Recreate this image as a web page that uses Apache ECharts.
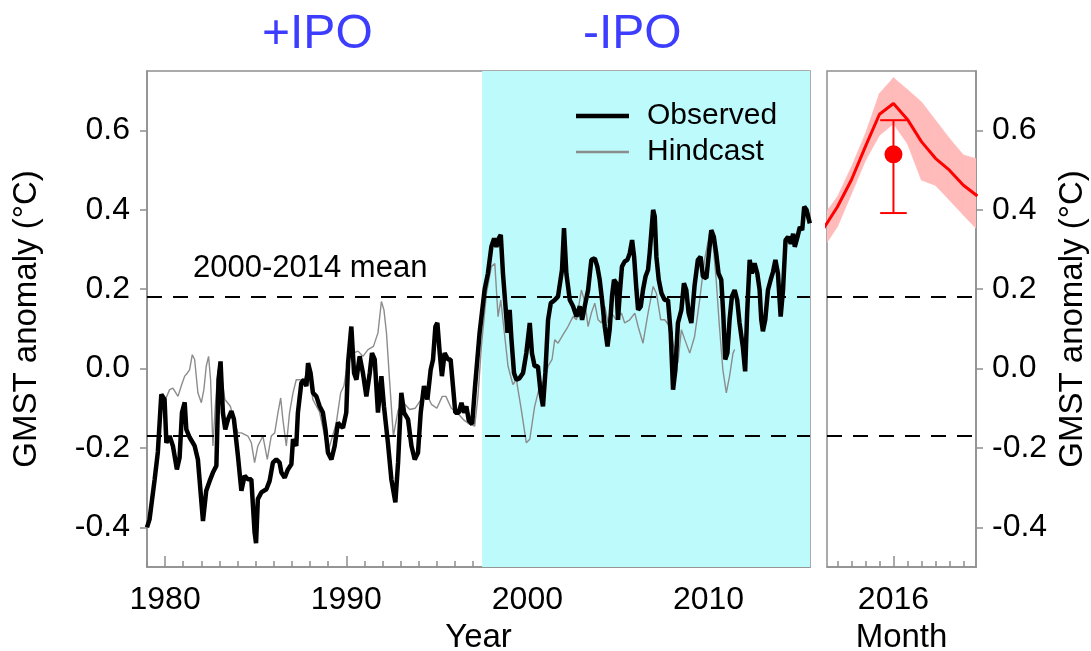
<!DOCTYPE html>
<html>
<head>
<meta charset="utf-8">
<script src="https://cdn.jsdelivr.net/npm/echarts@6/dist/echarts.min.js"></script>
<style>
  html, body { margin: 0; padding: 0; background: #fff; }
  #chart { width: 1091px; height: 651px; }
</style>
</head>
<body>
<div id="chart"></div>
<script>
// Monthly-smoothed global mean surface temperature anomaly, observed (°C)
const observed = [
  [1979.00,-0.40],[1979.14,-0.38],[1979.42,-0.28],[1979.60,-0.21],[1979.79,-0.065],[1979.97,-0.078],
  [1980.07,-0.187],[1980.25,-0.17],[1980.43,-0.195],[1980.65,-0.254],[1980.80,-0.224],[1980.93,-0.111],
  [1981.08,-0.085],[1981.17,-0.153],[1981.35,-0.173],[1981.63,-0.195],[1981.81,-0.229],[1981.90,-0.279],
  [1982.09,-0.384],[1982.27,-0.308],[1982.46,-0.283],[1982.64,-0.262],[1982.83,-0.245],[1982.95,-0.028],
  [1983.06,0.018],[1983.19,-0.111],[1983.32,-0.153],[1983.47,-0.128],[1983.66,-0.107],[1983.80,-0.128],
  [1984.02,-0.22],[1984.11,-0.262],[1984.21,-0.308],[1984.39,-0.27],[1984.57,-0.279],[1984.76,-0.279],
  [1984.94,-0.413],[1985.02,-0.44],[1985.12,-0.329],[1985.31,-0.312],[1985.59,-0.304],[1985.77,-0.283],
  [1985.95,-0.237],[1986.14,-0.229],[1986.32,-0.237],[1986.42,-0.262],[1986.60,-0.275],[1986.78,-0.254],
  [1986.97,-0.241],[1987.06,-0.178],[1987.24,-0.195],[1987.33,-0.111],[1987.52,-0.036],[1987.66,-0.028],
  [1987.80,-0.044],[1987.89,0.014],[1988.03,-0.011],[1988.16,-0.061],[1988.35,-0.07],[1988.53,-0.095],
  [1988.71,-0.111],[1988.85,-0.153],[1988.99,-0.212],[1989.18,-0.229],[1989.36,-0.195],[1989.54,-0.136],
  [1989.69,-0.145],[1989.82,-0.149],[1990.00,-0.111],[1990.10,0.014],[1990.28,0.106],[1990.43,-0.011],
  [1990.56,-0.028],[1990.74,0.031],[1990.92,-0.011],[1991.11,-0.07],[1991.30,-0.01],[1991.42,0.039],
  [1991.57,0.023],[1991.75,-0.111],[1991.94,-0.019],[1992.08,-0.095],[1992.30,-0.187],[1992.49,-0.279],
  [1992.71,-0.337],[1992.86,-0.237],[1993.04,-0.061],[1993.19,-0.111],[1993.41,-0.128],[1993.60,-0.195],
  [1993.78,-0.229],[1993.96,-0.212],[1994.11,-0.111],[1994.29,-0.044],[1994.48,-0.078],[1994.66,-0.003],
  [1994.79,0.023],[1994.92,0.106],[1995.03,0.115],[1995.16,0.039],[1995.28,-0.019],[1995.43,0.039],
  [1995.62,0.023],[1995.76,0.023],[1995.89,-0.044],[1996.02,-0.111],[1996.21,-0.111],[1996.36,-0.086],
  [1996.50,-0.111],[1996.63,-0.095],[1996.76,-0.13],[1996.95,-0.14],[1997.10,-0.05],[1997.36,0.09],
  [1997.64,0.20],[1997.82,0.24],[1998.01,0.307],[1998.16,0.328],[1998.29,0.307],[1998.42,0.328],
  [1998.53,0.337],[1998.65,0.24],[1998.79,0.157],[1998.90,0.09],[1999.02,0.148],[1999.12,0.073],
  [1999.26,-0.011],[1999.39,-0.028],[1999.57,-0.024],[1999.76,-0.011],[1999.94,0.039],[2000.13,0.115],
  [2000.25,0.039],[2000.40,0.006],[2000.58,0.006],[2000.73,-0.061],[2000.86,-0.095],[2000.99,-0.011],
  [2001.14,0.123],[2001.29,0.165],[2001.51,0.173],[2001.69,0.182],[2001.91,0.249],[2002.02,0.354],
  [2002.15,0.24],[2002.34,0.173],[2002.52,0.157],[2002.71,0.131],[2002.89,0.157],[2003.02,0.123],
  [2003.20,0.165],[2003.35,0.198],[2003.53,0.274],[2003.72,0.278],[2003.86,0.257],[2003.99,0.224],
  [2004.12,0.173],[2004.27,0.106],[2004.42,0.056],[2004.54,0.098],[2004.67,0.182],[2004.78,0.224],
  [2004.91,0.215],[2005.00,0.123],[2005.10,0.19],[2005.22,0.257],[2005.37,0.27],[2005.52,0.274],
  [2005.65,0.291],[2005.78,0.324],[2005.89,0.282],[2006.02,0.198],[2006.11,0.148],[2006.26,0.157],
  [2006.38,0.198],[2006.52,0.232],[2006.66,0.249],[2006.75,0.291],[2006.85,0.349],[2006.94,0.40],
  [2007.03,0.383],[2007.12,0.282],[2007.25,0.224],[2007.40,0.19],[2007.58,0.173],[2007.76,0.173],
  [2007.91,0.09],[2008.04,-0.053],[2008.17,-0.003],[2008.31,0.115],[2008.50,0.148],[2008.64,0.215],
  [2008.77,0.198],[2008.90,0.14],[2009.05,0.115],[2009.23,0.21],[2009.41,0.274],[2009.56,0.282],
  [2009.69,0.232],[2009.88,0.228],[2010.00,0.282],[2010.15,0.349],[2010.29,0.332],[2010.42,0.291],
  [2010.55,0.24],[2010.70,0.224],[2010.81,0.14],[2010.92,0.023],[2011.04,0.039],[2011.16,0.123],
  [2011.29,0.182],[2011.44,0.198],[2011.58,0.173],[2011.71,0.115],[2011.89,0.056],[2012.02,-0.007],
  [2012.13,0.14],[2012.27,0.274],[2012.39,0.24],[2012.54,0.265],[2012.69,0.24],[2012.82,0.198],
  [2012.91,0.123],[2013.00,0.094],[2013.13,0.123],[2013.28,0.198],[2013.43,0.224],[2013.56,0.244],
  [2013.69,0.274],[2013.83,0.24],[2013.98,0.131],[2014.11,0.198],[2014.25,0.324],[2014.39,0.332],
  [2014.54,0.315],[2014.67,0.34],[2014.76,0.307],[2014.91,0.332],[2015.04,0.357],[2015.17,0.349],
  [2015.28,0.408],[2015.41,0.40],[2015.59,0.366]
];

// Model hindcast of the same anomaly (°C)
const hindcast = [
  [1980.00,-0.08],[1980.25,-0.053],[1980.43,-0.049],[1980.71,-0.07],[1980.89,-0.044],[1981.08,-0.019],
  [1981.23,-0.011],[1981.35,-0.003],[1981.50,0.035],[1981.63,0.023],[1981.81,-0.061],[1982.00,-0.086],
  [1982.14,-0.053],[1982.27,0.006],[1982.40,0.031],[1982.51,-0.028],[1982.64,-0.195],[1982.77,-0.095],
  [1982.92,-0.003],[1983.06,0.0],[1983.30,-0.078],[1983.60,-0.095],[1983.80,-0.128],[1984.02,-0.162],
  [1984.21,-0.162],[1984.57,-0.17],[1984.76,-0.187],[1984.94,-0.237],[1985.12,-0.195],[1985.40,-0.17],
  [1985.64,-0.229],[1985.86,-0.17],[1986.05,-0.162],[1986.23,-0.111],[1986.38,-0.074],[1986.50,-0.128],
  [1986.69,-0.195],[1986.87,-0.111],[1987.06,-0.061],[1987.24,-0.028],[1987.43,-0.028],[1987.66,-0.03],
  [1987.89,0.0],[1988.16,-0.078],[1988.53,-0.11],[1988.99,-0.21],[1989.45,-0.137],[1989.69,-0.061],
  [1989.87,-0.044],[1990.10,0.023],[1990.37,0.039],[1990.65,0.044],[1990.92,0.031],[1991.20,0.048],
  [1991.50,0.056],[1991.75,0.09],[1991.94,0.169],[1992.08,0.148],[1992.22,0.09],[1992.40,-0.036],
  [1992.60,-0.17],[1992.86,-0.105],[1993.13,-0.085],[1993.50,-0.103],[1993.80,-0.10],[1994.10,-0.08],
  [1994.40,-0.06],[1994.70,-0.09],[1995.00,-0.10],[1995.30,-0.07],[1995.50,-0.07],[1995.80,-0.10],
  [1996.10,-0.11],[1996.50,-0.13],[1996.80,-0.14],[1997.09,-0.145],[1997.27,-0.07],[1997.46,0.056],
  [1997.74,0.19],[1998.01,0.257],[1998.20,0.265],[1998.38,0.131],[1998.53,0.173],[1998.71,0.098],
  [1998.93,0.006],[1999.20,-0.04],[1999.39,-0.028],[1999.66,-0.103],[1999.94,-0.187],[2000.13,-0.178],
  [2000.40,-0.095],[2000.68,-0.044],[2000.95,-0.028],[2001.14,0.006],[2001.36,0.023],[2001.51,0.073],
  [2001.69,0.064],[2001.91,0.081],[2002.24,0.106],[2002.52,0.131],[2002.71,0.123],[2002.98,0.198],
  [2003.16,0.17],[2003.35,0.106],[2003.53,0.14],[2003.72,0.165],[2003.90,0.123],[2004.09,0.115],
  [2004.27,0.157],[2004.45,0.115],[2004.64,0.14],[2004.91,0.123],[2005.19,0.14],[2005.37,0.115],
  [2005.65,0.123],[2005.93,0.14],[2006.11,0.106],[2006.38,0.064],[2006.66,0.14],[2006.94,0.207],
  [2007.12,0.19],[2007.36,0.123],[2007.58,0.123],[2007.86,0.106],[2008.05,0.06],[2008.31,0.014],
  [2008.50,0.098],[2008.69,0.073],[2008.96,0.039],[2009.23,0.081],[2009.51,0.173],[2009.78,0.274],
  [2010.06,0.341],[2010.25,0.315],[2010.42,0.224],[2010.60,0.106],[2010.79,-0.003],[2010.98,-0.061],
  [2011.16,-0.019],[2011.35,0.039],[2011.44,0.048]
];

// 2016 forecast: months relative to January 2016
const forecastMonths = [-5, -4, -3, -2, -1, 0, 1, 2, 3, 4, 5, 6];
const forecastMean   = [0.353, 0.408, 0.476, 0.560, 0.641, 0.668, 0.628, 0.572, 0.530, 0.500, 0.462, 0.435];
const forecastLower  = [0.305, 0.358, 0.441, 0.525, 0.588, 0.617, 0.567, 0.475, 0.462, 0.425, 0.387, 0.350];
const forecastUpper  = [0.385, 0.433, 0.508, 0.592, 0.693, 0.733, 0.703, 0.672, 0.626, 0.580, 0.538, 0.528];

// Observed 2016 value with its range
const obs2016Month = [0];
const obs2016Value = [0.54];
const obs2016Low   = [0.392];
const obs2016High  = [0.626];

// Reference means and IPO phase boundary
const mean2000to2014 = 0.182;
const mean1951to2012 = -0.166;
const negIpoStart = 1997.5;
const yearMin = 1979, yearMax = 2015.6;
const monthMin = -4.75, monthMax = 5.9;
const anomalyMin = -0.5, anomalyMax = 0.75;

// Axis ticks and labels
const yTicks = [-0.4, -0.2, 0, 0.2, 0.4, 0.6];
const decadeTicks = [1980, 1990, 2000, 2010];
const yearTicks = [];
for (let y = 1979; y <= 2015; y++) yearTicks.push(y);
const monthTicks = [-4, -3, -2, -1, 0, 1, 2, 3, 4, 5];
const monthMajor = [0];
const monthLabel = '2016';

const FONT = 'Liberation Sans, Arial, sans-serif';
const AXIS_GRAY = '#8f8f8f';
const tickText = { fontFamily: FONT, color: '#000', fontSize: 32 };
const titleText = { fontFamily: FONT, color: '#000', fontSize: 33 };

const chart = echarts.init(document.getElementById('chart'), null, { renderer: 'canvas' });

const meanLines = {
  silent: true,
  symbol: 'none',
  label: { show: false },
  lineStyle: { color: '#000', width: 2, type: [15, 11] },
  data: [{ yAxis: mean2000to2014 }, { yAxis: mean1951to2012 }]
};

const axisLine = { show: true, onZero: false, lineStyle: { color: AXIS_GRAY, width: 1.5 } };
const tickLine = { color: AXIS_GRAY, width: 1.5 };

const option = {
  backgroundColor: '#fff',
  animation: false,
  grid: [
    { left: 147, top: 71, width: 663, height: 496, outerBoundsMode: 'none', containLabel: false,
      show: true, borderColor: AXIS_GRAY, borderWidth: 1.5, backgroundColor: 'transparent' },
    { left: 827, top: 71, width: 149, height: 496, outerBoundsMode: 'none', containLabel: false,
      show: true, borderColor: AXIS_GRAY, borderWidth: 1.5, backgroundColor: 'transparent' }
  ],
  legend: {
    data: [
      { name: 'Observed', icon: 'path://M0,0h53v4.5h-53z' },
      { name: 'Hindcast', icon: 'path://M0,0h53v2.6h-53z' }
    ],
    orient: 'vertical',
    left: 571,
    top: 96,
    itemWidth: 53,
    itemHeight: 14,
    itemGap: 6,
    textStyle: { fontFamily: FONT, fontSize: 30, color: '#000', padding: [0, 0, 0, 13] }
  },
  xAxis: [
    {
      gridIndex: 0, type: 'value', min: yearMin, max: yearMax, position: 'bottom',
      name: 'Year', nameLocation: 'middle', nameGap: 54,
      nameTextStyle: titleText,
      axisLine,
      axisTick: { show: true, inside: true, length: 6, customValues: yearTicks, lineStyle: tickLine },
      axisLabel: { show: true, customValues: decadeTicks, margin: 17, ...tickText, formatter: v => String(Math.round(v)) },
      splitLine: { show: false }
    },
    {
      gridIndex: 1, type: 'value', min: monthMin, max: monthMax, position: 'bottom',
      name: 'Month', nameLocation: 'middle', nameGap: 54,
      nameTextStyle: titleText,
      axisLine,
      axisTick: { show: true, inside: true, length: 6, customValues: monthTicks, lineStyle: tickLine },
      axisLabel: { show: true, customValues: monthMajor, margin: 17, ...tickText, formatter: () => monthLabel },
      splitLine: { show: false }
    },
    {
      // longer decade ticks
      gridIndex: 0, type: 'value', min: yearMin, max: yearMax, position: 'bottom',
      axisLine: { show: false, onZero: false },
      axisTick: { show: true, inside: true, length: 11, customValues: decadeTicks, lineStyle: tickLine },
      axisLabel: { show: false }, splitLine: { show: false }
    },
    {
      gridIndex: 1, type: 'value', min: monthMin, max: monthMax, position: 'bottom',
      axisLine: { show: false, onZero: false },
      axisTick: { show: true, inside: true, length: 11, customValues: monthMajor, lineStyle: tickLine },
      axisLabel: { show: false }, splitLine: { show: false }
    }
  ],
  yAxis: [
    {
      gridIndex: 0, type: 'value', min: anomalyMin, max: anomalyMax, position: 'left',
      name: 'GMST anomaly (°C)', nameLocation: 'middle', nameRotate: 90, nameGap: 104,
      nameTextStyle: titleText,
      axisLine,
      axisTick: { show: true, length: 7, customValues: yTicks, lineStyle: tickLine },
      axisLabel: { show: true, customValues: yTicks, margin: 17, ...tickText, formatter: v => v.toFixed(1) },
      splitLine: { show: false }
    },
    {
      gridIndex: 1, type: 'value', min: anomalyMin, max: anomalyMax, position: 'right',
      name: 'GMST anomaly (°C)', nameLocation: 'middle', nameRotate: 90, nameGap: 80,
      nameTextStyle: titleText,
      axisLine,
      axisTick: { show: true, length: 7, customValues: yTicks, lineStyle: tickLine },
      axisLabel: { show: true, customValues: yTicks, margin: 16, ...tickText, formatter: v => v.toFixed(1) },
      splitLine: { show: false }
    }
  ],
  graphic: [
    { type: 'text', left: 262, top: 11, style: { text: '+IPO', fontFamily: FONT, fontSize: 48, fill: '#3d3dff' } },
    { type: 'text', left: 583, top: 11, style: { text: '-IPO', fontFamily: FONT, fontSize: 48, fill: '#3d3dff' } },
    { type: 'text', left: 193, top: 253, style: { text: '2000-2014 mean', fontFamily: FONT, fontSize: 31, fill: '#000' } },
    { type: 'text', left: 538, top: 440, style: { text: '1951-2012 mean', fontFamily: FONT, fontSize: 31, fill: '#000' } }
  ],
  series: [
    {
      // negative IPO phase shading
      name: 'shade', type: 'line', xAxisIndex: 0, yAxisIndex: 0, z: 1,
      data: [[negIpoStart, anomalyMax], [yearMax, anomalyMax]],
      symbol: 'none', lineStyle: { width: 0 },
      areaStyle: { color: '#bdfafc', opacity: 1, origin: 'start' },
      silent: true,
      markLine: meanLines
    },
    {
      name: 'Hindcast', type: 'line', xAxisIndex: 0, yAxisIndex: 0, z: 3,
      data: hindcast, symbol: 'none', showSymbol: false,
      itemStyle: { color: '#8c8c8c' },
      lineStyle: { color: '#8c8c8c', width: 1.4 }
    },
    {
      name: 'Observed', type: 'line', xAxisIndex: 0, yAxisIndex: 0, z: 4,
      data: observed, symbol: 'none', showSymbol: false,
      itemStyle: { color: '#000' },
      lineStyle: { color: '#000', width: 4.5 }
    },
    {
      // forecast spread, drawn as one quad per month step
      name: 'spread', type: 'custom', xAxisIndex: 1, yAxisIndex: 1, z: 2, clip: true, silent: true,
      data: forecastMonths.map((m, i) => [m, forecastLower[i], forecastUpper[i]]),
      renderItem: (params, api) => {
        const i = params.dataIndexInside;
        if (i >= params.dataInsideLength - 1) return null;
        const a0 = api.coord([api.value(0, i), api.value(1, i)]);
        const b0 = api.coord([api.value(0, i + 1), api.value(1, i + 1)]);
        const b1 = api.coord([api.value(0, i + 1), api.value(2, i + 1)]);
        const a1 = api.coord([api.value(0, i), api.value(2, i)]);
        return {
          type: 'polygon',
          shape: { points: [a0, b0, b1, a1] },
          style: { fill: '#ffbaba', stroke: '#ffbaba', lineWidth: 0.8 }
        };
      }
    },
    {
      name: 'forecast', type: 'line', xAxisIndex: 1, yAxisIndex: 1, z: 4,
      data: forecastMonths.map((m, i) => [m, forecastMean[i]]),
      symbol: 'none', lineStyle: { color: '#ff0000', width: 3 },
      markLine: meanLines
    },
    {
      name: 'obsRange', type: 'custom', xAxisIndex: 1, yAxisIndex: 1, z: 5,
      data: obs2016Month.map((m, i) => [m, obs2016Low[i], obs2016High[i]]),
      renderItem: (params, api) => {
        const lo = api.coord([api.value(0), api.value(1)]);
        const hi = api.coord([api.value(0), api.value(2)]);
        const cap = api.size([0.95, 0])[0];
        const style = { stroke: '#ff0000', lineWidth: 2 };
        return {
          type: 'group',
          children: [
            { type: 'line', shape: { x1: lo[0], y1: lo[1], x2: hi[0], y2: hi[1] }, style },
            { type: 'line', shape: { x1: lo[0] - cap, y1: lo[1], x2: lo[0] + cap, y2: lo[1] }, style },
            { type: 'line', shape: { x1: hi[0] - cap, y1: hi[1], x2: hi[0] + cap, y2: hi[1] }, style }
          ]
        };
      }
    },
    {
      name: 'obs2016', type: 'scatter', xAxisIndex: 1, yAxisIndex: 1, z: 6,
      data: obs2016Month.map((m, i) => [m, obs2016Value[i]]),
      symbolSize: 18, itemStyle: { color: '#ff0000', opacity: 1 }
    }
  ]
};

chart.setOption(option);
</script>
</body>
</html>
